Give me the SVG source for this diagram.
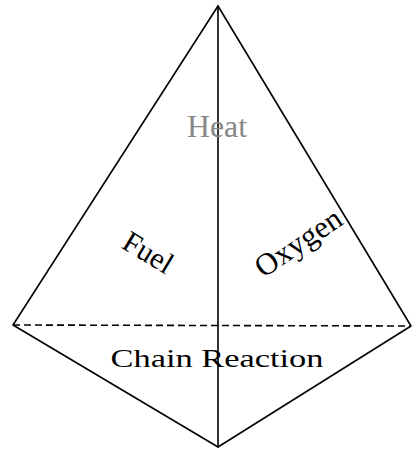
<svg xmlns="http://www.w3.org/2000/svg" width="413" height="450" viewBox="0 0 413 450">
<style>
.e{stroke:#000;stroke-width:1.6;fill:none;stroke-linecap:round;stroke-linejoin:round}
.d{stroke:#000;stroke-width:1.6;fill:none;stroke-dasharray:7 4}
.t{font-family:"Liberation Serif",serif;fill:#000;text-anchor:middle}
</style>
<rect width="413" height="450" fill="#fff"/>
<g id="connectors">
<path class="e" d="M218,6 L13,325 L218,447 L411,326 Z"/>
<path class="e" d="M218,6 L218,447"/>
<path class="d" d="M13,325 L411,326"/>
</g>
<g id="heat"><text class="t" x="217" y="137" style="fill:#888;font-size:32px" textLength="60" lengthAdjust="spacingAndGlyphs">Heat</text></g>
<g id="fuel"><text class="t" transform="translate(143,261) rotate(31)" x="0" y="0" style="font-size:30px">Fuel</text></g>
<g id="oxygen"><text class="t" transform="translate(304,251) rotate(-34)" x="0" y="0" style="font-size:31px">Oxygen</text></g>
<g id="chain"><text class="t" x="217" y="367" style="font-size:25px" textLength="213" lengthAdjust="spacingAndGlyphs">Chain Reaction</text></g>
</svg>
